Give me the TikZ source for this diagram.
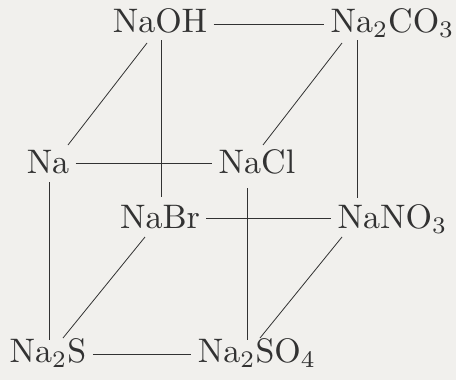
\documentclass[tikz,border=0pt]{standalone}
\usepackage{tikz}
\usetikzlibrary{matrix}
\definecolor{paper}{RGB}{241,240,237}
\definecolor{ink}{RGB}{50,50,50}
\newcommand{\sub}[1]{\textsubscript{#1}}

\begin{document}
\begin{tikzpicture}[x=1pt, y=1pt, line width=0.8pt]
      \useasboundingbox (0,0) rectangle (456,-380);
      \fill[paper] (0,0) rectangle (456,-380);
      \matrix (m) [matrix of nodes, nodes in empty cells,
        nodes={scale=3.4, transform shape, inner xsep=1.5pt, inner ysep=1pt, text=ink},
        column sep={0pt,between origins}, row sep={0pt,between origins},
        matrix anchor=m-1-2.base] at (160,-32) {
        &[112pt,between origins] NaOH &[97pt,between origins] &[135.5pt,between origins] Na\sub{2}CO\sub{3} \\[141pt,between origins]
        Na & & NaCl & \\[55pt,between origins]
        & NaBr & & NaNO\sub{3} \\[134pt,between origins]
        Na\sub{2}S & & Na\sub{2}SO\sub{4} & \\
      } ;
      % front and back faces
      \draw[ink] (m-1-2.mid east) -- (m-1-4.mid west);
      \draw[ink] ([yshift=2.5pt]m-2-1.mid east) -- ([yshift=2.5pt]m-2-3.mid west);
      \draw[ink] ([yshift=2.5pt]m-3-2.mid east) -- ([yshift=2.5pt]m-3-4.mid west);
      \draw[ink] (m-4-1.mid east) -- (m-4-3.mid west);
      \draw[ink] ([shift={(-13pt,-11pt)}]m-1-2.base) -- ([shift={(20pt,28pt)}]m-2-1.base);
      \draw[ink] ([shift={(-50.5pt,-11pt)}]m-1-4.base) -- ([shift={(6pt,28pt)}]m-2-3.base);
      \draw[ink] ([shift={(-15pt,-9pt)}]m-3-2.base) -- ([shift={(15pt,24pt)}]m-4-1.base);
      \draw[ink] ([shift={(-50.5pt,-9pt)}]m-3-4.base) -- ([shift={(3pt,24pt)}]m-4-3.base);
      % vertical edges
      \draw[ink] ([shift={(1pt,-8pt)}]m-1-2.base) -- ([shift={(1pt,31pt)}]m-3-2.base);
      \draw[ink] ([shift={(-35.5pt,-8pt)}]m-1-4.base) -- ([shift={(-35.5pt,30pt)}]m-3-4.base);
      \draw[ink] ([shift={(1pt,-9pt)}]m-2-1.base) -- ([shift={(1pt,22pt)}]m-4-1.base);
      \draw[ink] ([shift={(-10pt,-15pt)}]m-2-3.base) -- ([shift={(-10pt,22pt)}]m-4-3.base);
    \end{tikzpicture}
\end{document}
